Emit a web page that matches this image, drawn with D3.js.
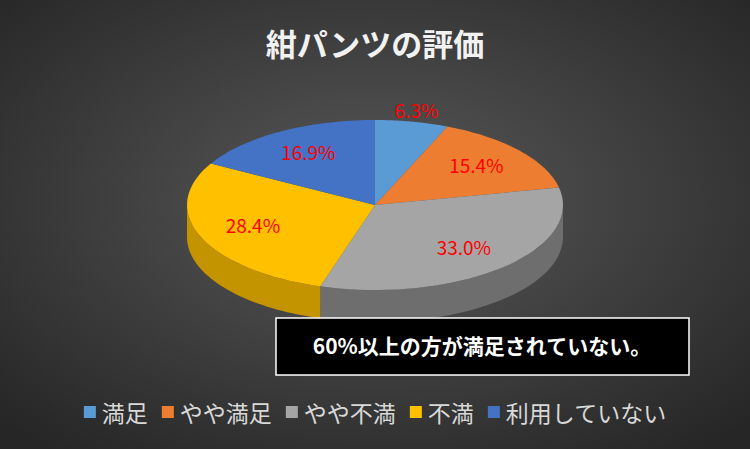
<!DOCTYPE html>
<html><head><meta charset="utf-8">
<script src="https://cdn.jsdelivr.net/npm/d3@7"></script>
<style>body{margin:0;background:#333}</style>
</head><body>
<svg id="c" width="750" height="449"></svg>
<script>
const categories = ["満足", "やや満足", "やや不満", "不満", "利用していない"];
const values = [6.3, 15.4, 33.0, 28.4, 16.9];
const colors = ["#5B9BD5", "#ED7D31", "#A5A5A5", "#FFC000", "#4472C4"];
const sideColors = ["#3f7ab0", "#b85a1c", "#6e6e6e", "#c49300", "#2f5597"];
const title = "紺パンツの評価";
const note = "60%以上の方が満足されていない。";

const svg = d3.select("#c");
const W = 750, H = 449;
const defs = svg.append("defs");
const bg = defs.append("radialGradient").attr("id", "bg").attr("cx", "50%").attr("cy", "45%").attr("r", "70%");
bg.append("stop").attr("offset", "0%").attr("stop-color", "#595959");
bg.append("stop").attr("offset", "100%").attr("stop-color", "#262626");
svg.append("rect").attr("width", W).attr("height", H).attr("fill", "url(#bg)");

svg.append("text").attr("x", W / 2).attr("y", 56).attr("text-anchor", "middle")
  .attr("fill", "#f2f2f2").attr("font-family", "Noto Sans CJK JP").attr("font-weight", "bold")
  .attr("font-size", 31).text(title);

const cx = 375, cy = 205, rx = 188, ry = 85, depth = 32;
const pie = d3.pie().sort(null).value(d => d)(values);
const ang = d3.scaleLinear().domain([0, 2 * Math.PI]).range([0, 2 * Math.PI]);
const px = a => cx + rx * Math.sin(ang(a));
const py = a => cy - ry * Math.cos(ang(a));

function arcPts(a0, a1, dy) {
  const n = 40, pts = [];
  for (let i = 0; i <= n; i++) { const a = a0 + (a1 - a0) * i / n; pts.push([px(a), py(a) + dy]); }
  return pts;
}
const line = d3.line();

pie.forEach((s, i) => {
  const a0 = Math.max(s.startAngle, Math.PI / 2), a1 = Math.min(s.endAngle, 3 * Math.PI / 2);
  if (a1 <= a0) return;
  const top = arcPts(a0, a1, 0), bot = arcPts(a1, a0, depth);
  svg.append("path").attr("d", line(top.concat(bot)) + "Z").attr("fill", sideColors[i]);
});

pie.forEach((s, i) => {
  const pts = [[cx, cy]].concat(arcPts(s.startAngle, s.endAngle, 0));
  svg.append("path").attr("d", line(pts) + "Z").attr("fill", colors[i]);
});

pie.forEach((s, i) => {
  const m = (s.startAngle + s.endAngle) / 2;
  const f = values[i] < 10 ? 1.12 : 0.7;
  svg.append("text").attr("x", cx + rx * f * Math.sin(m)).attr("y", cy - ry * f * Math.cos(m) + 6)
    .attr("text-anchor", "middle").attr("fill", "#ff0000").attr("font-size", 19)
    .attr("font-family", "Noto Sans CJK JP").text(values[i].toFixed(1) + "%");
});

svg.append("rect").attr("x", 276).attr("y", 318).attr("width", 413).attr("height", 57)
  .attr("fill", "#000").attr("stroke", "#fff").attr("stroke-width", 1.5);
svg.append("text").attr("x", 482).attr("y", 354).attr("text-anchor", "middle").attr("fill", "#fff")
  .attr("font-size", 21).attr("font-weight", "bold").attr("font-family", "Noto Sans CJK JP").text(note);

const lg = svg.append("g");
let x = 0;
categories.forEach((c, i) => {
  lg.append("rect").attr("x", x).attr("y", 406).attr("width", 12).attr("height", 12).attr("fill", colors[i]);
  const t = lg.append("text").attr("x", x + 18).attr("y", 422).attr("fill", "#d9d9d9")
    .attr("font-size", 23).attr("font-family", "Noto Sans CJK JP").text(c);
  x += 18 + t.node().getComputedTextLength() + 14;
});
lg.attr("transform", `translate(${(W - (x - 14)) / 2},0)`);
</script>
</body></html>
